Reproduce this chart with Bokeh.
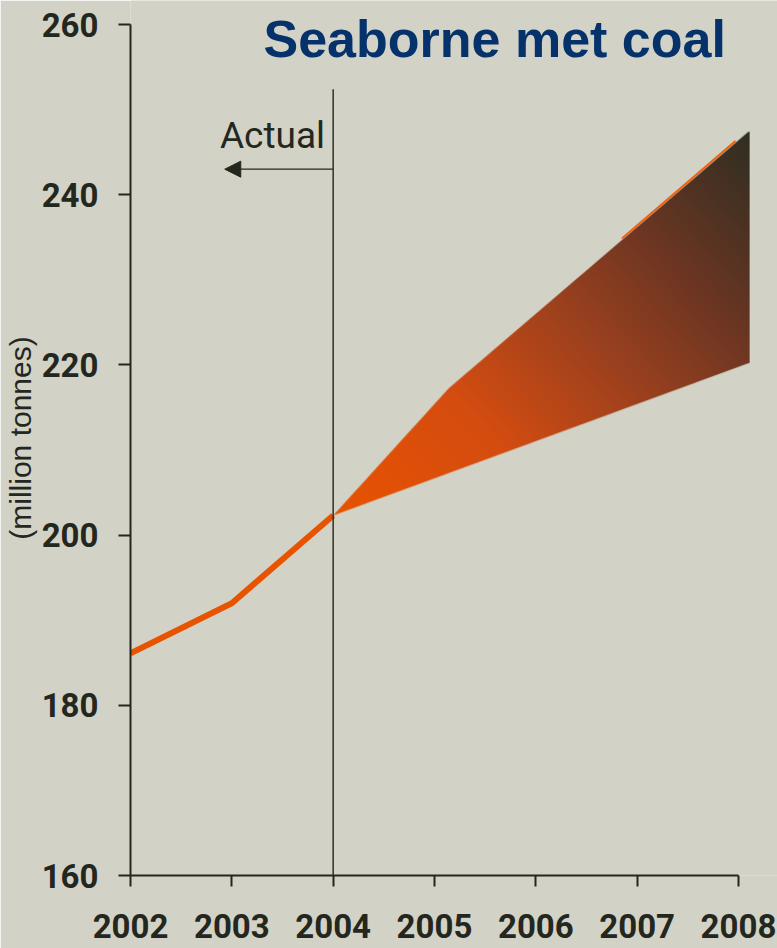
import numpy as np
from bokeh.plotting import figure
from bokeh.models import Range1d, FixedTicker, Label, Arrow, NormalHead
from bokeh.embed import file_html
from bokeh.resources import INLINE

# --- data -------------------------------------------------------------
actual_years = [2002, 2003, 2004]
actual_vals = [186.1, 192.0, 202.3]

# projected range: upper (high case) and lower (low case) edges
high_years = [2004, 2005.14, 2008.11]
high_vals = [202.3, 217.2, 247.4]
low_years = [2004, 2008.11]
low_vals = [202.3, 220.2]

# visible stretch of the high-case line above the shaded range
high_line_years = [2006.85, 2007.97]
high_line_vals = [234.85, 246.3]

x_ticks = [2002, 2003, 2004, 2005, 2006, 2007, 2008]
x_tick_labels = ["2002", "2003", "2004", "2005", "2006", "2007", "2008"]
y_ticks = [160, 180, 200, 220, 240, 260]

# --- styling ----------------------------------------------------------
BG = "#d2d2c6"
INK = "#24271e"
ORANGE = "#e85300"
SANS = "Roboto"

W, H = 777, 948
LEFT, BOTTOM = 130, 73
FW, FH = W - LEFT, H - BOTTOM

x_range = Range1d(2002, 2002 + FW / 101.33)
y_range = Range1d(160, 160 + FH / 8.51)

p = figure(width=W, height=H, x_range=x_range, y_range=y_range,
           output_backend="svg", toolbar_location=None,
           min_border_left=LEFT, min_border_right=0,
           min_border_top=0, min_border_bottom=BOTTOM)
p.background_fill_color = BG
p.border_fill_color = BG
p.outline_line_color = None
p.grid.visible = False

# axes
p.xaxis.ticker = FixedTicker(ticks=x_ticks)
p.xaxis.major_label_overrides = {t: s for t, s in zip(x_ticks, x_tick_labels)}
p.xaxis.bounds = (x_ticks[0], x_ticks[-1])
p.yaxis.ticker = FixedTicker(ticks=y_ticks)
p.yaxis.bounds = (y_ticks[0], y_ticks[-1])
for ax in (p.xaxis, p.yaxis):
    ax.axis_line_color = INK
    ax.axis_line_width = 2
    ax.major_tick_line_color = INK
    ax.major_tick_line_width = 2
    ax.major_tick_in = 0
    ax.minor_tick_line_color = None
    ax.major_label_text_font = SANS
    ax.major_label_text_font_style = "bold"
    ax.major_label_text_font_size = "33px"
    ax.major_label_text_color = INK
p.xaxis.major_tick_out = 11
p.xaxis.major_label_standoff = 27
p.yaxis.major_tick_out = 12
p.yaxis.major_label_standoff = 20
p.yaxis.axis_label = "(million tonnes)"
p.yaxis.axis_label_text_font = "Liberation Sans"
p.yaxis.axis_label_text_font_style = "normal"
p.yaxis.axis_label_text_font_size = "30px"
p.yaxis.axis_label_text_color = INK
p.yaxis.axis_label_standoff = 2

# --- shaded projection range (diagonal gradient) -----------------------
ppx = FW / (x_range.end - x_range.start)
ppy = FH / (y_range.end - y_range.start)
x0, x1 = high_years[0], high_years[-1]
y0, y1 = min(low_vals), max(high_vals)
nx = int(round((x1 - x0) * ppx))
ny = int(round((y1 - y0) * ppy))
ss = 4
xs = x0 + (np.arange(nx * ss) + 0.5) / (nx * ss) * (x1 - x0)
ys = y0 + (np.arange(ny * ss) + 0.5) / (ny * ss) * (y1 - y0)
up = np.interp(xs, high_years, high_vals)
lo = np.interp(xs, low_years, low_vals)
inside = (ys[:, None] <= up[None, :]) & (ys[:, None] >= lo[None, :])
cover = inside.reshape(ny, ss, nx, ss).mean(axis=(1, 3))

xc = x0 + (np.arange(nx) + 0.5) / nx * (x1 - x0)
yc = y0 + (np.arange(ny) + 0.5) / ny * (y1 - y0)
gx = (xc[None, :] - x0) * ppx
gy = (yc[:, None] - y0) * ppy
dx = (x1 - x0) * ppx
dy = (y1 - y0) * ppy
t = np.clip((gx * dx + gy * dy) / (dx * dx + dy * dy), 0, 1)

stops = [0.0, 0.3, 0.55, 0.75, 1.0]
stop_colors = ["#e85200", "#d44c10", "#9a401e", "#6a3522", "#2e2e22"]
rgb = np.array([[int(c[i:i + 2], 16) for i in (1, 3, 5)] for c in stop_colors], float)
rgba = np.zeros((ny, nx, 4), dtype=np.uint8)
for k in range(3):
    rgba[..., k] = np.round(np.interp(t, stops, rgb[:, k])).astype(np.uint8)
rgba[..., 3] = np.round(cover * 255).astype(np.uint8)
img = np.ascontiguousarray(rgba).view(np.uint32).reshape(ny, nx)
p.image_rgba(image=[img], x=x0, y=y0, dw=x1 - x0, dh=y1 - y0)

# high-case line showing above the shading
p.line(high_line_years, high_line_vals, line_color="#f06010", line_width=2)

# actual volumes
p.line(actual_years, actual_vals, line_color=ORANGE, line_width=6,
       line_join="miter")

# divider between actual and forecast
p.segment(x0=[2004], y0=[160], x1=[2004], y1=[252.4],
          line_color=INK, line_width=1.4)

p.add_layout(Arrow(end=NormalHead(size=16, line_color=INK, fill_color=INK,
                                  line_width=1),
                   x_start=2004, y_start=243.0, x_end=2002.93, y_end=243.0,
                   line_color=INK, line_width=1.2))

p.add_layout(Label(x=2003.92, y=247.0, text="Actual", text_align="right",
                   text_baseline="alphabetic", text_font=SANS,
                   text_font_size="37px", text_color=INK))

p.add_layout(Label(x=133, y=FH - 38, x_units="screen", y_units="screen",
                   text="Seaborne met coal", text_align="left",
                   text_baseline="alphabetic", text_font="Liberation Sans",
                   text_font_style="bold", text_font_size="52px",
                   text_color="#05326a"))

open("out.html", "w").write(file_html(p, INLINE))
